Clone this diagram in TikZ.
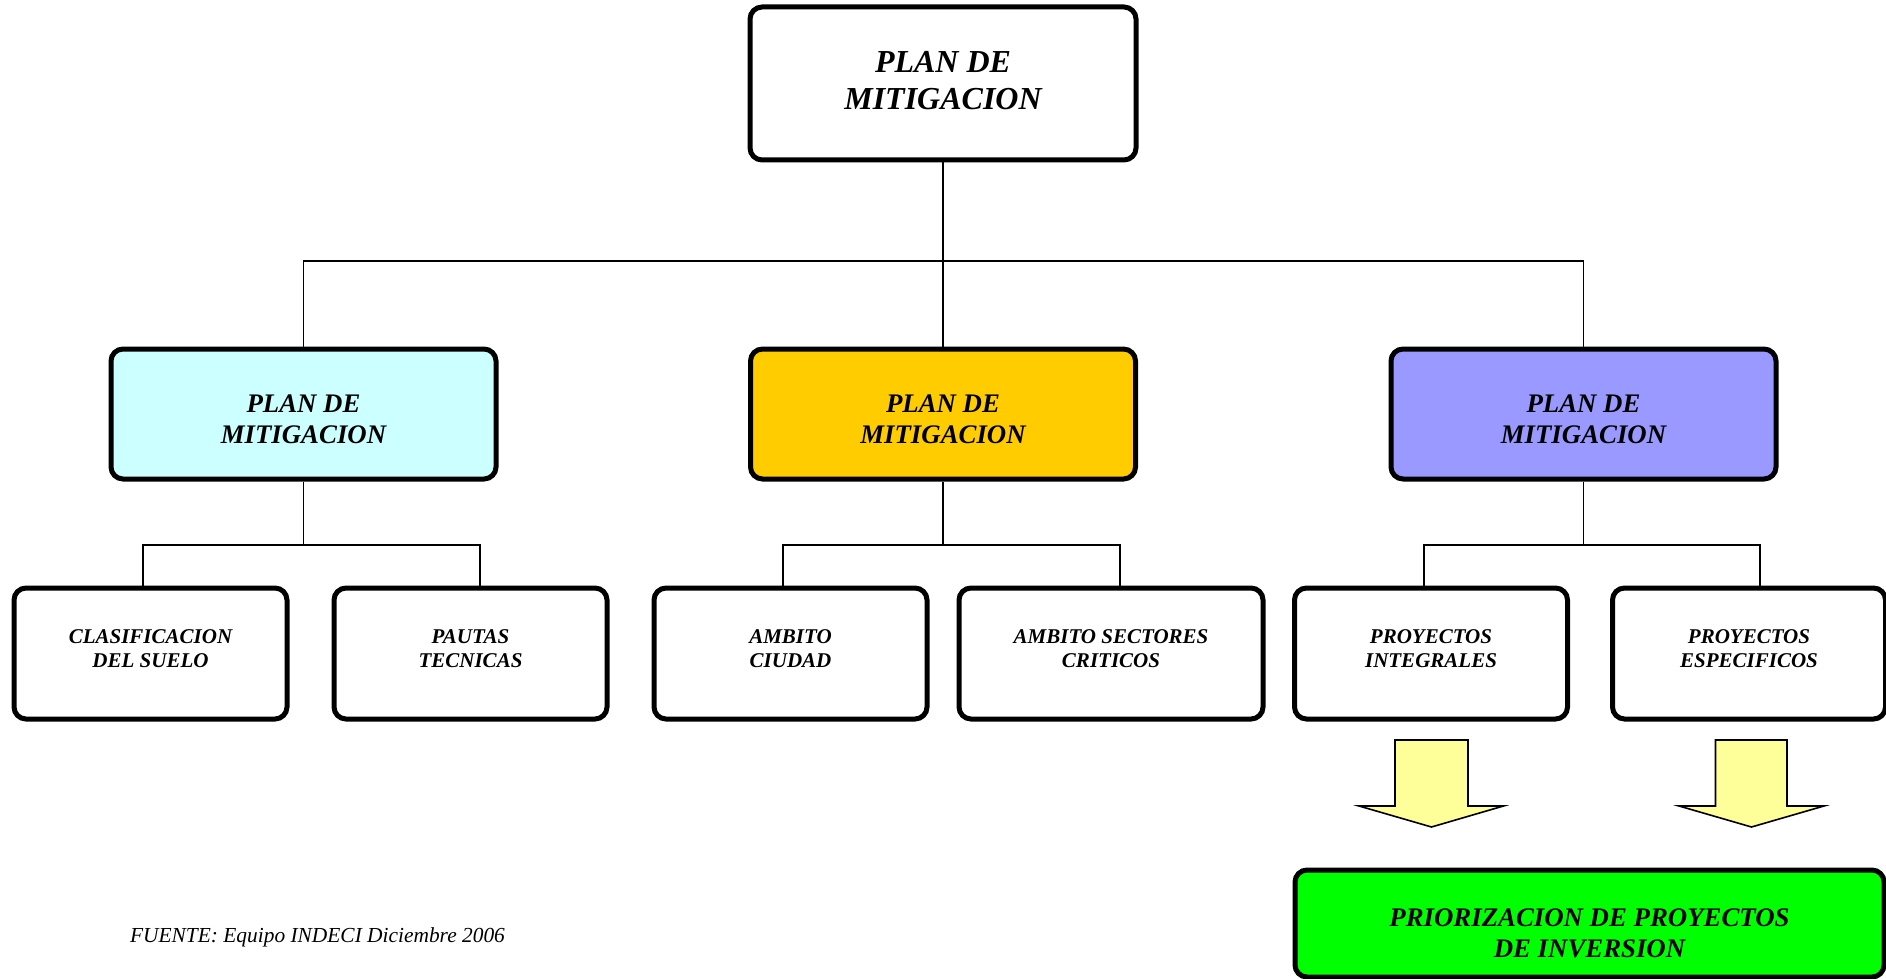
\documentclass[tikz,border=0pt]{standalone}
\usepackage{fontspec}
\setmainfont{Liberation Serif}
\usepackage{tikz}
\usetikzlibrary{positioning, calc}
\definecolor{cyanish}{HTML}{CCFFFF}
\definecolor{goldish}{HTML}{FFCC00}
\definecolor{lilac}{HTML}{9999FF}
\definecolor{brightgreen}{HTML}{00FF00}
\definecolor{paleyellow}{HTML}{FFFF99}
\tikzstyle{link} = [line width=0.8pt]
\tikzstyle{blockarrow} = [draw=black, line width=0.8pt, fill=paleyellow, line join=miter]

\begin{document}
\begin{tikzpicture}[x=0.5pt, y=-0.5pt,
    planbox/.style={rectangle, draw, line width=2.5pt, rounded corners=6pt, fill=white, align=center, inner sep=2pt},
    topbox/.style={planbox, minimum width=193pt, minimum height=76.5pt, font=\fontsize{16}{18.5}\selectfont\bfseries\itshape, execute at end node={\rule[-2.6pt]{0pt}{0pt}}},
    areabox/.style={planbox, minimum width=192.5pt, minimum height=65pt, font=\fontsize{13.4}{15.5}\selectfont\bfseries\itshape},
    itembox/.style={planbox, minimum width=136.5pt, minimum height=65.5pt, font=\fontsize{10.5}{12}\selectfont\bfseries\itshape, execute at end node={\rule[-4.8pt]{0pt}{0pt}}}
  ]
    \useasboundingbox (0,0) rectangle (1886,979);

    % Top
    \node[topbox] (plan) at (943,83.5) {PLAN DE\\MITIGACION};

    % Level 2
    \node[areabox, fill=cyanish] (planA) at (303.5,414) {\rule{0pt}{14pt}PLAN DE\\MITIGACION};
    \node[areabox, fill=goldish] (planB) at (943,414) {\rule{0pt}{14pt}PLAN DE\\MITIGACION};
    \node[areabox, fill=lilac] (planC) at (1583.5,414) {\rule{0pt}{14pt}PLAN DE\\MITIGACION};

    % Level 3
    \node[itembox] (clas) at (150.5,653.5) {CLASIFICACION\\DEL SUELO};
    \node[itembox] (pautas) at (470.5,653.5) {PAUTAS\\TECNICAS};
    \node[itembox] (ciudad) at (790.5,653.5) {AMBITO\\CIUDAD};
    \node[itembox, minimum width=152pt] (sectores) at (1111,653.5) {AMBITO SECTORES\\CRITICOS};
    \node[itembox] (integ) at (1431,653.5) {PROYECTOS\\INTEGRALES};
    \node[itembox] (espec) at (1749,653.5) {PROYECTOS\\ESPECIFICOS};

    % Result
    \node[planbox, fill=brightgreen, minimum width=294.5pt, minimum height=53.5pt, font=\fontsize{13.4}{15.5}\selectfont\bfseries\itshape] (prior) at (1589.5,923.5) {\rule{0pt}{19pt}PRIORIZACION DE PROYECTOS\\DE INVERSION};

    % Connectors
    \coordinate (bus) at (943,261);
    \draw[link] (plan.south) -- (bus) -- (planB.north);
    \draw[link] (planA.north) |- (bus) -| (planC.north);

    \coordinate (busA) at (303.5,545);
    \draw[link] (planA.south) -- (busA);
    \draw[link] ([xshift=-3.7pt]clas.north) |- (busA) -| ([xshift=4.7pt]pautas.north);
    \coordinate (busB) at (943,545);
    \draw[link] (planB.south) -- (busB);
    \draw[link] ([xshift=-3.7pt]ciudad.north) |- (busB) -| ([xshift=4.5pt]sectores.north);
    \coordinate (busC) at (1583.5,545);
    \draw[link] (planC.south) -- (busC);
    \draw[link] ([xshift=-3.5pt]integ.north) |- (busC) -| ([xshift=5.5pt]espec.north);

    % Block arrows
    \coordinate (tipA) at (1431.5,827);
    \coordinate (tipB) at (1751.5,827);
    \draw[blockarrow] (tipA) -- ++(-72.5,-21) -- ++(36,0) -- ++(0,-66) -- ++(73,0) -- ++(0,66) -- ++(35.5,0) -- cycle;
    \draw[blockarrow] (tipB) -- ++(-72.5,-21) -- ++(36.5,0) -- ++(0,-66) -- ++(71.5,0) -- ++(0,66) -- ++(37,0) -- cycle;

    % Source
    \node[anchor=west, font=\fontsize{10.7}{12}\selectfont\itshape] (fuente) at (123,937) {FUENTE: Equipo INDECI Diciembre 2006};
\end{tikzpicture}
\end{document}
